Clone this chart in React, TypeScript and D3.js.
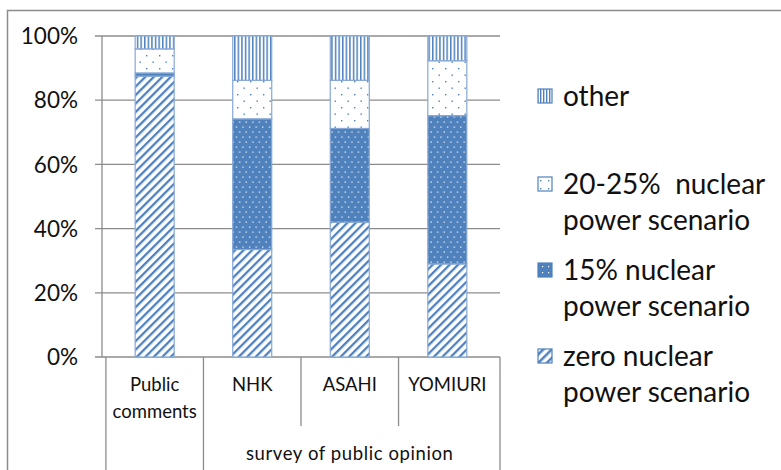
import React from "react";
import * as d3 from "d3";

const categories = ["Public comments", "NHK", "ASAHI", "YOMIURI"];
const categoryLines = [["Public", "comments"], ["NHK"], ["ASAHI"], ["YOMIURI"]];
const seriesNames = ["zero nuclear power scenario", "15% nuclear power scenario", "20-25% nuclear power scenario", "other"];
const zeroNuclear = [87.5, 33.5, 42, 29];
const fifteen = [1, 40.7, 29.2, 46.2];
const twentyFive = [7.5, 12, 15, 17.1];
const other = [4, 13.8, 13.8, 7.7];
const yTicks = [0, 20, 40, 60, 80, 100];
const groupLabel = "survey of public opinion";
const legendItems = [
  { key: "other", lines: ["other"] },
  { key: "p2025", lines: ["20-25%  nuclear", "power scenario"] },
  { key: "p15", lines: ["15% nuclear", "power scenario"] },
  { key: "zero", lines: ["zero nuclear", "power scenario"] },
];

const BLUE = "#4f81bd";
const FONT = "Lato, 'Open Sans', sans-serif";

export default function App() {
  const W = 781, H = 470;
  const left = 102, right = 500, top = 36, bottom = 357;
  const x = d3.scaleBand<string>().domain(categories).range([left, right]).paddingInner(0.6).paddingOuter(0.34);
  const y = d3.scaleLinear().domain([0, 100]).range([bottom, top]);
  const seriesArr = [zeroNuclear, fifteen, twentyFive, other];
  const fills = ["url(#diag)", "url(#dots15)", "url(#dots2025)", "url(#vert)"];
  const data = categories.map((c, i) => {
    const o: any = { cat: c };
    seriesArr.forEach((s, k) => (o["s" + k] = s[i]));
    return o;
  });
  const stack = d3.stack<any>().keys(["s0", "s1", "s2", "s3"])(data);
  const step = x.step();
  const legendFill: Record<string, string> = {
    other: "url(#vertL)", p2025: "url(#dots2025L)", p15: "url(#dots15L)", zero: "url(#diagL)",
  };
  const legendY = [96, 184, 270, 356];

  return (
    <svg width={W} height={H} style={{ position: "absolute", left: 0, top: 0, background: "#fff" }} fontFamily={FONT}>
      <defs>
        <pattern id="diag" width={6} height={6} patternUnits="userSpaceOnUse" patternTransform="rotate(45)">
          <rect width={6} height={6} fill="#fff" />
          <rect x={0} width={2.3} height={6} fill={BLUE} />
        </pattern>
        <pattern id="vert" width={3.6} height={4} patternUnits="userSpaceOnUse">
          <rect width={3.6} height={4} fill="#fff" />
          <rect x={0} width={1.5} height={4} fill={BLUE} />
        </pattern>
        <pattern id="dots15" width={6.6} height={10} patternUnits="userSpaceOnUse">
          <rect width={6.6} height={10} fill={BLUE} />
          <rect x={1.5} y={1.5} width={1.2} height={1.2} fill="#fff" />
          <rect x={4.8} y={6.5} width={1.2} height={1.2} fill="#fff" />
        </pattern>
        <pattern id="dots2025" width={13} height={13} patternUnits="userSpaceOnUse">
          <rect width={13} height={13} fill="#fff" />
          <rect x={3} y={3} width={1.4} height={1.4} fill={BLUE} />
          <rect x={9.5} y={9.5} width={1.4} height={1.4} fill={BLUE} />
        </pattern>
        <pattern id="diagL" width={6} height={6} patternUnits="userSpaceOnUse" patternTransform="rotate(45)">
          <rect width={6} height={6} fill="#fff" />
          <rect x={0} width={2.5} height={6} fill={BLUE} />
        </pattern>
        <pattern id="vertL" width={3} height={4} patternUnits="userSpaceOnUse">
          <rect width={3} height={4} fill="#fff" />
          <rect x={0} width={1.4} height={4} fill={BLUE} />
        </pattern>
        <pattern id="dots15L" width={6} height={6} patternUnits="userSpaceOnUse">
          <rect width={6} height={6} fill={BLUE} />
          <rect x={2} y={2} width={1.2} height={1.2} fill="#fff" />
        </pattern>
        <pattern id="dots2025L" width={8} height={8} patternUnits="userSpaceOnUse">
          <rect width={8} height={8} fill="#fff" />
          <rect x={4} y={4} width={1.4} height={1.4} fill={BLUE} />
        </pattern>
      </defs>
      <rect x={0} y={0} width={W} height={H} fill="#fff" />
      {/* outer chart border */}
      <path d={`M7.5,${H + 2} V10.5 H${W + 2}`} fill="none" stroke="#8c8c8c" strokeWidth={1.5} />

      {/* gridlines and ticks */}
      {yTicks.map((t) => (
        <g key={t}>
          <line x1={95} x2={right} y1={y(t)} y2={y(t)} stroke="#8c8c8c" strokeWidth={1.3} />
          <text x={78} y={y(t)} dy="0.36em" textAnchor="end" fontSize={22.5} fill="#111">{t}%</text>
        </g>
      ))}
      <line x1={left} x2={left} y1={top} y2={bottom} stroke="#8c8c8c" strokeWidth={1.3} />

      {/* bars */}
      {stack.map((layer, k) => (
        <g key={k}>
          {layer.map((d, i) => (
            <rect
              key={i}
              x={x(categories[i])!}
              width={x.bandwidth()}
              y={y(d[1])}
              height={y(d[0]) - y(d[1])}
              fill={fills[k]}
              stroke="#86a8d6"
              strokeWidth={1.2}
            />
          ))}
        </g>
      ))}

      {/* category axis lines */}
      {categories.map((c, i) => {
        const x0 = x(c)! - (step - x.bandwidth()) / 2;
        const long = i === 0 || i === 1;
        return (
          <line key={c} x1={x0} x2={x0} y1={bottom} y2={long ? H : 426} stroke="#8c8c8c" strokeWidth={1.3} />
        );
      })}
      <line x1={right} x2={right} y1={bottom} y2={H} stroke="#8c8c8c" strokeWidth={1.3} />

      {categoryLines.map((lines, i) => {
        const cx = x(categories[i])! + x.bandwidth() / 2;
        return (
          <text key={i} textAnchor="middle" fontSize={18.5} fill="#111">
            {lines.map((l, j) => (
              <tspan key={j} x={cx} y={385 + j * 27} dy="0.35em">{l}</tspan>
            ))}
          </text>
        );
      })}
      <text
        x={(x("NHK")! + x("YOMIURI")! + x.bandwidth()) / 2}
        y={454}
        dy="0.35em"
        textAnchor="middle"
        fontSize={18.5}
        letterSpacing={0.6}
        fill="#111"
      >
        {groupLabel}
      </text>

      {/* legend */}
      {legendItems.map((item, i) => (
        <g key={item.key}>
          <rect x={538} y={legendY[i] - 7} width={14} height={14} fill={legendFill[item.key]} stroke={BLUE} strokeWidth={1.2} />
          <text fontSize={28} fill="#111">
            {item.lines.map((l, j) => (
              <tspan key={j} x={563} y={legendY[i] + j * 36} dy="0.35em" style={{ whiteSpace: "pre" }}>{l}</tspan>
            ))}
          </text>
        </g>
      ))}
    </svg>
  );
}
